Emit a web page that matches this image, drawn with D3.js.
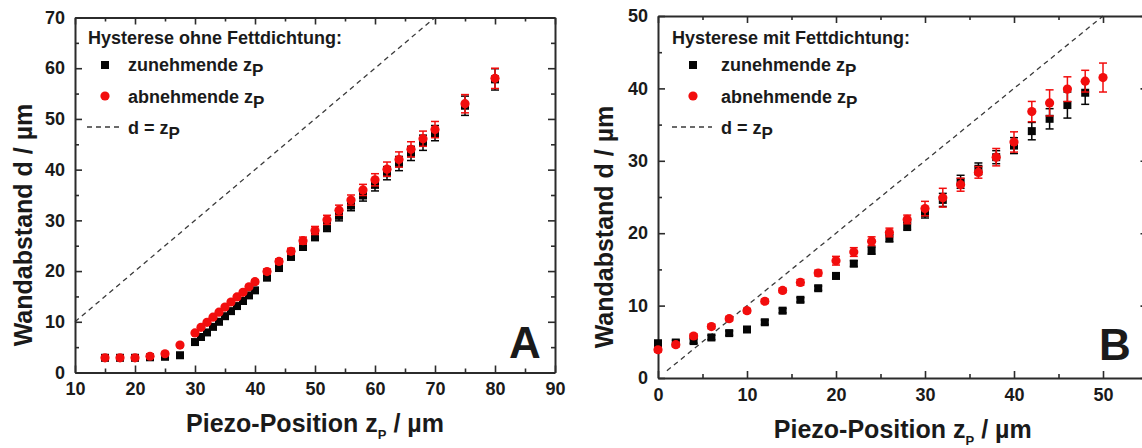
<!DOCTYPE html>
<html>
<head>
<meta charset="utf-8">
<script src="https://cdn.jsdelivr.net/npm/d3@7/dist/d3.min.js"></script>
<style>
  html, body { margin: 0; padding: 0; background: #fff; }
  svg text { font-family: "Liberation Sans", Arial, sans-serif; font-weight: bold; fill: #1a1a1a; }
</style>
</head>
<body>
<svg id="chart" width="1142" height="448"></svg>
<script>
// ---- Panel A: hysteresis without grease seal ----
const zA = [15, 17.5, 20, 22.5, 25, 27.5, 30, 31, 32, 33, 34, 35, 36, 37, 38, 39, 40,
            42, 44, 46, 48, 50, 52, 54, 56, 58, 60, 62, 64, 66, 68, 70, 75, 80];
const dA_up = [2.9, 2.9, 2.9, 3.0, 3.1, 3.4, 6.0, 7.0, 7.9, 9.0, 10.0, 11.1, 12.1, 13.1, 14.1, 15.2, 16.2,
               18.7, 20.6, 22.8, 24.8, 26.8, 28.7, 30.9, 32.9, 34.9, 37.0, 39.3, 41.2, 43.2, 45.3, 47.2, 52.6, 57.8];
const errA_up = [0.3, 0.3, 0.3, 0.3, 0.3, 0.3, 0.3, 0.3, 0.3, 0.3, 0.3, 0.3, 0.3, 0.3, 0.3, 0.3, 0.4,
                 0.5, 0.5, 0.6, 0.7, 0.8, 0.9, 1.0, 1.0, 1.1, 1.2, 1.3, 1.4, 1.4, 1.5, 1.5, 1.9, 2.1];
const dA_down = [2.9, 2.9, 2.9, 3.2, 3.7, 5.4, 7.8, 8.9, 9.9, 10.9, 11.9, 12.9, 13.9, 14.9, 15.8, 16.9, 17.9,
                 19.9, 21.9, 23.9, 26.0, 28.0, 30.1, 32.0, 34.0, 36.0, 38.0, 40.1, 42.0, 44.0, 46.1, 47.9, 53.0, 58.0];
const errA_down = [0.3, 0.3, 0.3, 0.3, 0.3, 0.3, 0.3, 0.3, 0.3, 0.3, 0.3, 0.3, 0.3, 0.3, 0.3, 0.3, 0.4,
                   0.5, 0.5, 0.6, 0.7, 0.8, 0.9, 1.0, 1.0, 1.1, 1.2, 1.4, 1.5, 1.5, 1.5, 1.6, 1.8, 2.0];
const diagA = [10, 70];

// ---- Panel B: hysteresis with grease seal ----
const zB_up = [0, 2, 4, 6, 8, 10, 12, 14, 16, 18, 20, 22, 24, 26, 28, 30, 32, 34, 36, 38, 40, 42, 44, 46, 48];
const dB_up = [4.8, 4.9, 5.1, 5.6, 6.2, 6.7, 7.7, 9.3, 10.8, 12.4, 14.1, 15.8, 17.6, 19.3, 21.0,
               22.8, 24.6, 27.1, 28.9, 30.5, 32.1, 34.1, 35.8, 37.7, 39.4];
const errB_up = [0.3, 0.3, 0.3, 0.3, 0.3, 0.3, 0.3, 0.3, 0.3, 0.3, 0.4, 0.4, 0.5, 0.5, 0.6,
                 0.7, 0.9, 0.9, 0.8, 0.9, 1.1, 1.2, 1.4, 1.8, 1.6];
const zB_down = [0, 2, 4, 6, 8, 10, 12, 14, 16, 18, 20, 22, 24, 26, 28, 30, 32, 34, 36, 38, 40, 42, 44, 46, 48, 50];
const dB_down = [3.9, 4.6, 5.8, 7.1, 8.2, 9.3, 10.6, 12.1, 13.2, 14.5, 16.2, 17.4, 18.9, 20.1, 21.9,
                 23.4, 24.9, 26.7, 28.4, 30.5, 32.6, 36.8, 38.0, 39.9, 41.0, 41.5];
const errB_down = [0.3, 0.3, 0.3, 0.3, 0.3, 0.3, 0.3, 0.3, 0.4, 0.4, 0.6, 0.6, 0.6, 0.6, 0.6,
                   1.0, 1.3, 0.9, 0.8, 1.2, 1.4, 1.4, 1.8, 1.7, 1.5, 2.0];
const diagB = [1, 50];

// ---- Axis ticks ----
const xMajorA = [10, 20, 30, 40, 50, 60, 70, 80, 90];
const xMinorA = [15, 25, 35, 45, 55, 65, 75, 85];
const yMajorA = [0, 10, 20, 30, 40, 50, 60, 70];
const yMinorA = [5, 15, 25, 35, 45, 55, 65];
const xMajorB = [0, 10, 20, 30, 40, 50];
const xMinorB = [5, 15, 25, 35, 45, 55];
const yMajorB = [0, 10, 20, 30, 40, 50];
const yMinorB = [5, 15, 25, 35, 45];

// ---- Texts ----
const yTitle = "Wandabstand d / µm";
const xTitleMain = "Piezo-Position z";
const xTitleSub = "P";
const xTitleTail = " / µm";
const legendTitleA = "Hysterese ohne Fettdichtung:";
const legendTitleB = "Hysterese mit Fettdichtung:";
const legendUp = "zunehmende z";
const legendDown = "abnehmende z";
const legendDiag = "d = z";
const legendSub = "P";

const RED = "#f20d0d";
const BLACK = "#050505";
const AXIS = "#2b2b2b";

const svg = d3.select("#chart");

function drawPanel(cfg) {
  const x = d3.scaleLinear().domain(cfg.xDomain).range([cfg.left, cfg.right]);
  const y = d3.scaleLinear().domain(cfg.yDomain).range([cfg.bottom, cfg.top]);
  const g = svg.append("g");

  // dashed reference line d = z_P
  const line = d3.line().x(d => x(d)).y(d => y(d));
  g.append("path")
    .attr("d", line(cfg.diag))
    .attr("fill", "none")
    .attr("stroke", "#3a3a3a")
    .attr("stroke-width", 1.3)
    .attr("stroke-dasharray", "5,4");

  // axes: major + minor ticks on all four sides, pointing inward
  function axes(gen, pos, major, minor, labels) {
    const a = g.append("g").attr("transform", pos);
    a.call(gen.tickValues(major).tickSizeInner(-7).tickSizeOuter(0)
      .tickPadding(10).tickFormat(labels ? d3.format("d") : ""));
    const m = g.append("g").attr("transform", pos);
    m.call(gen.tickValues(minor).tickSizeInner(-4).tickSizeOuter(0).tickFormat(""));
    m.select(".domain").remove();
    [a, m].forEach(s => {
      s.selectAll("line").attr("stroke", AXIS).attr("stroke-width", 1.6);
      s.selectAll(".domain").attr("stroke", AXIS).attr("stroke-width", 2);
      s.selectAll("text").attr("font-size", 18).attr("font-family", null).attr("fill", "#1a1a1a");
    });
  }
  axes(d3.axisBottom(x), `translate(0,${cfg.bottom})`, cfg.xMajor, cfg.xMinor, true);
  axes(d3.axisTop(x), `translate(0,${cfg.top})`, cfg.xMajor, cfg.xMinor, false);
  axes(d3.axisLeft(y), `translate(${cfg.left},0)`, cfg.yMajor, cfg.yMinor, true);
  axes(d3.axisRight(y), `translate(${cfg.right},0)`, cfg.yMajor, cfg.yMinor, false);

  // error bars
  function errorBars(xs, ys, es, color) {
    const data = xs.map((v, i) => ({ x: v, y: ys[i], e: es[i] }));
    const eg = g.append("g").attr("stroke", color).attr("stroke-width", 1.5);
    eg.selectAll("line.v").data(data).join("line")
      .attr("x1", d => x(d.x)).attr("x2", d => x(d.x))
      .attr("y1", d => y(d.y - d.e)).attr("y2", d => y(d.y + d.e));
    eg.selectAll("line.t").data(data).join("line")
      .attr("x1", d => x(d.x) - 4).attr("x2", d => x(d.x) + 4)
      .attr("y1", d => y(d.y + d.e)).attr("y2", d => y(d.y + d.e));
    eg.selectAll("line.b").data(data).join("line")
      .attr("x1", d => x(d.x) - 4).attr("x2", d => x(d.x) + 4)
      .attr("y1", d => y(d.y - d.e)).attr("y2", d => y(d.y - d.e));
  }

  errorBars(cfg.zUp, cfg.dUp, cfg.eUp, BLACK);
  g.append("g").selectAll("rect").data(cfg.zUp.map((v, i) => [v, cfg.dUp[i]])).join("rect")
    .attr("x", d => x(d[0]) - 4).attr("y", d => y(d[1]) - 4)
    .attr("width", 8).attr("height", 8).attr("fill", BLACK);

  errorBars(cfg.zDown, cfg.dDown, cfg.eDown, RED);
  g.append("g").selectAll("circle").data(cfg.zDown.map((v, i) => [v, cfg.dDown[i]])).join("circle")
    .attr("cx", d => x(d[0])).attr("cy", d => y(d[1]))
    .attr("r", 4.6).attr("fill", RED);

  // legend
  const L = cfg.legend;
  g.append("text").attr("x", L.titleX).attr("y", 44).attr("font-size", 18).text(L.title);
  g.append("rect").attr("x", L.symX - 4).attr("y", 61).attr("width", 8).attr("height", 8).attr("fill", BLACK);
  g.append("circle").attr("cx", L.symX).attr("cy", 96).attr("r", 4.6).attr("fill", RED);
  g.append("line").attr("x1", L.lineX0).attr("x2", L.lineX1).attr("y1", 127).attr("y2", 127)
    .attr("stroke", "#3a3a3a").attr("stroke-width", 1.3).attr("stroke-dasharray", "5,4");
  [[legendUp, 71], [legendDown, 103], [legendDiag, 134]].forEach(([t, by]) => {
    const tx = g.append("text").attr("x", L.textX).attr("y", by).attr("font-size", 18);
    tx.append("tspan").text(t);
    tx.append("tspan").attr("dy", 5).attr("font-size", 17).text(legendSub);
  });

  // axis titles
  g.append("text")
    .attr("transform", `translate(${cfg.yTitleX},${cfg.yTitleY}) rotate(-90)`)
    .attr("text-anchor", "middle").attr("font-size", 25).text(yTitle);
  const xt = g.append("text").attr("x", x((cfg.xDomain[0] + cfg.xDomain[1]) / 2))
    .attr("y", cfg.xTitleY).attr("text-anchor", "middle").attr("font-size", 25);
  xt.append("tspan").text(xTitleMain);
  xt.append("tspan").attr("dy", 7).attr("font-size", 13).text(xTitleSub);
  xt.append("tspan").attr("dy", -7).text(xTitleTail);

  // panel letter
  g.append("text").attr("x", cfg.letterX).attr("y", cfg.letterY)
    .attr("font-size", 44).attr("fill", "#000").text(cfg.letter);
}

drawPanel({
  xDomain: [10, 90], yDomain: [0, 70],
  left: 75, right: 555, top: 17.5, bottom: 372.5,
  xMajor: xMajorA, xMinor: xMinorA, yMajor: yMajorA, yMinor: yMinorA,
  diag: diagA,
  zUp: zA, dUp: dA_up, eUp: errA_up,
  zDown: zA, dDown: dA_down, eDown: errA_down,
  legend: { title: legendTitleA, titleX: 88, symX: 105, textX: 128, lineX0: 87, lineX1: 120 },
  yTitleX: 32, yTitleY: 225, xTitleY: 432,
  letter: "A", letterX: 509, letterY: 358
});

drawPanel({
  xDomain: [0, 55], yDomain: [0, 50],
  left: 658, right: 1147.5, top: 16, bottom: 378,
  xMajor: xMajorB, xMinor: xMinorB, yMajor: yMajorB, yMinor: yMinorB,
  diag: diagB,
  zUp: zB_up, dUp: dB_up, eUp: errB_up,
  zDown: zB_down, dDown: dB_down, eDown: errB_down,
  legend: { title: legendTitleB, titleX: 672, symX: 693, textX: 721, lineX0: 672, lineX1: 712 },
  yTitleX: 613, yTitleY: 227, xTitleY: 438,
  letter: "B", letterX: 1099, letterY: 360
});
</script>
</body>
</html>
